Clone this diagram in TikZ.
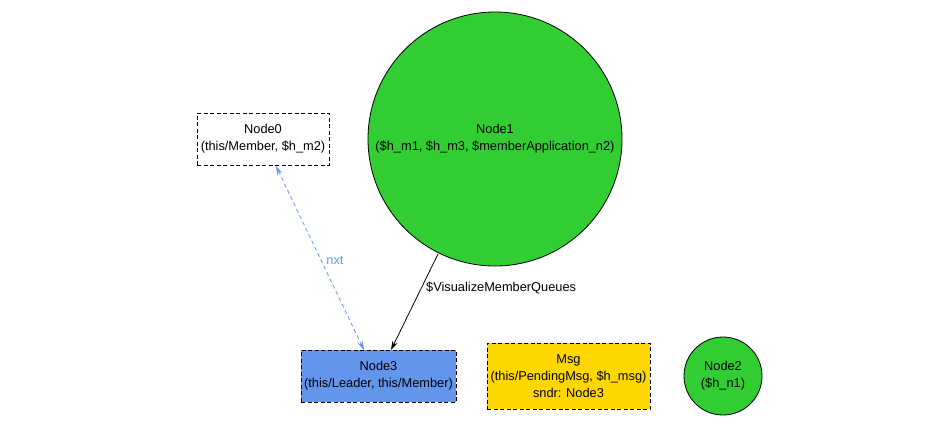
\documentclass[tikz,border=0pt]{standalone}
\usepackage{fontspec}
\setmainfont{Liberation Sans}
\usetikzlibrary{arrows.meta}
\definecolor{ngreen}{HTML}{32CD32}
\definecolor{nblue}{HTML}{6495ED}
\definecolor{ngold}{HTML}{FFD700}
\begin{document}
\begin{tikzpicture}[x=1pt,y=-1pt,
  every node/.style={font=\fontsize{12.8}{17}\selectfont, align=center, inner sep=0pt},
  dbox/.style={draw=black, line width=1pt, dash pattern=on 4pt off 2.5pt},
  circ/.style={draw=black, circle, fill=ngreen, line width=0.8pt},
  tip/.style={Stealth[length=9pt,width=5.5pt]},
  conn/.style={line width=0.8pt}]
\useasboundingbox (0,0) rectangle (933,424);
\node[dbox, minimum width=132pt, minimum height=52pt] (n0) at (263,139) {Node0\\(this/Member, \$h\_m2)};
\node[circ, minimum size=254pt] (n1) at (495,139) {Node1\\(\$h\_m1, \$h\_m3, \$memberApplication\_n2)};
\node[dbox, fill=nblue, minimum width=155pt, minimum height=52pt] (n3) at (378.5,376) {Node3\\(this/Leader, this/Member)};
\node[dbox, fill=ngold, minimum width=163pt, minimum height=66pt] (msg) at (568.5,376) {Msg\\(this/PendingMsg, \$h\_msg)\\sndr: Node3};
\node[circ, minimum size=78pt] (n2) at (723,376) {Node2\\(\$h\_n1)};
\coordinate (a1) at (276,166);
\coordinate (a3) at (364,350);
\draw[conn, nblue, dash pattern=on 4pt off 3pt, {Stealth[length=9pt,width=5.5pt]}-{Stealth[length=9pt,width=5.5pt]}] (a1) -- (a3) node[pos=0.5, text=nblue, xshift=15pt, yshift=-2pt] {nxt};
\coordinate (b1) at (438,254);
\coordinate (b3) at (391,350);
\draw[conn, -{Stealth[length=9pt,width=5.5pt]}] (b1) -- (b3);
\node[anchor=west] (lbl) at (426,288) {\$VisualizeMemberQueues};
\end{tikzpicture}
\end{document}
